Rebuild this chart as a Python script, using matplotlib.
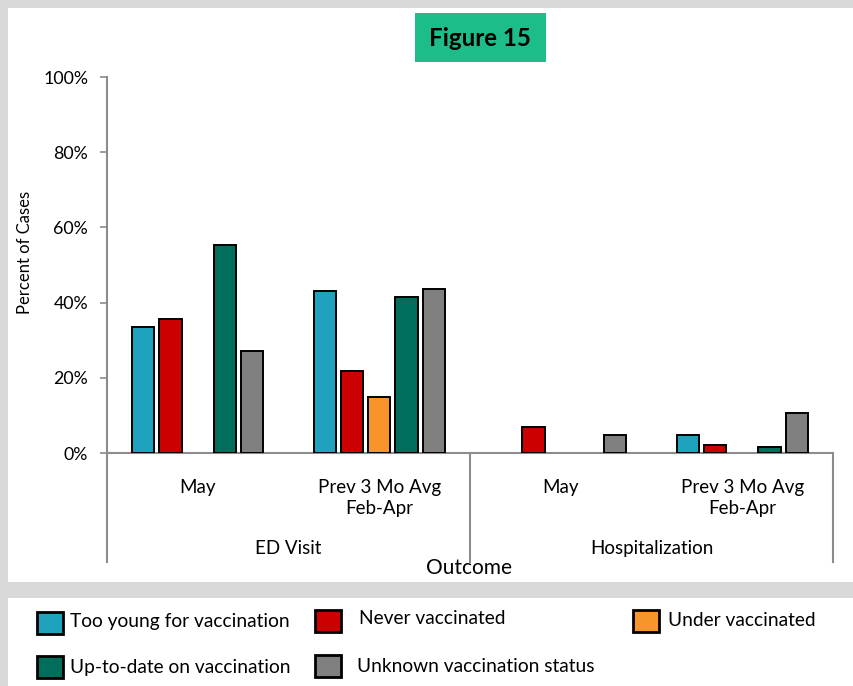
import numpy as np
import matplotlib.pyplot as plt
from matplotlib.patches import Rectangle

plt.rcParams['font.family'] = ['Lato', 'DejaVu Sans']

# data (percent of cases)
categories = ['May', 'Prev 3 Mo Avg\nFeb-Apr', 'May', 'Prev 3 Mo Avg\nFeb-Apr']
outcomes = ['ED Visit', 'Hospitalization']
series = ['Too young for vaccination', 'Never vaccinated', 'Under vaccinated',
          'Up-to-date on vaccination', 'Unknown vaccination status']
too_young = [33.5, 43.2, 0.0, 4.9]
never_vacc = [35.6, 21.8, 6.9, 2.2]
under_vacc = [0.0, 15.0, 0.0, 0.0]
up_to_date = [55.4, 41.5, 0.0, 1.6]
unknown = [27.2, 43.7, 4.8, 10.6]
values = [too_young, never_vacc, under_vacc, up_to_date, unknown]
colors = ['#1fa2bd', '#cc0000', '#f7952b', '#006e5a', '#808080']

W, H = 854, 686
fig = plt.figure(figsize=(W / 100, H / 100), dpi=100, facecolor='#d9d9d9')


def fx(x):
    return x / W


def fy(y):
    return 1 - y / H


# white panels
fig.patches.append(Rectangle((fx(8), fy(582)), fx(846), 574 / H, transform=fig.transFigure,
                             facecolor='white', edgecolor='none', zorder=-2))
fig.patches.append(Rectangle((fx(8), 0), fx(846), 88 / H, transform=fig.transFigure,
                             facecolor='white', edgecolor='none', zorder=-2))

# title box
fig.patches.append(Rectangle((fx(415), fy(62)), fx(131), 49 / H, transform=fig.transFigure,
                             facecolor='#1dbd8a', edgecolor='none', zorder=1))
fig.text(fx(480), fy(38), 'Figure 15', ha='center', va='center', fontsize=17.4,
         fontweight='bold', color='black')

ax = fig.add_axes([fx(107), fy(453), fx(726), 376 / H])
ax.set_facecolor('none')

x = np.arange(len(categories))
bw = 0.122
step = 0.15
for i, (vals, c) in enumerate(zip(values, colors)):
    v = np.array(vals)
    m = v > 0
    ax.bar(x[m] + (i - 2) * step, v[m], width=bw, color=c, edgecolor='black',
           linewidth=1.4, zorder=3)

ax.set_xlim(-0.5, 3.5)
ax.set_ylim(0, 100)
ax.set_yticks(np.arange(0, 101, 20))
ax.set_yticklabels([f'{t}%' for t in range(0, 101, 20)], fontsize=12.8)
ax.tick_params(axis='y', direction='out', length=5, width=1.2, color='#8c8c8c', pad=8.5)
ax.set_xticks(x)
ax.set_xticklabels(categories, fontsize=13.5, linespacing=1.25)
ax.tick_params(axis='x', length=0, pad=19)
for s in ['top', 'right']:
    ax.spines[s].set_visible(False)
for s in ['left', 'bottom']:
    ax.spines[s].set_color('#8c8c8c')
    ax.spines[s].set_linewidth(1.5)

# outer level of the category axis
tr = ax.get_xaxis_transform()
for bx in [-0.5, 1.5, 3.5]:
    ax.plot([bx, bx], [0, -0.29], transform=tr, color='#8c8c8c', lw=1.5, clip_on=False)
for k, name in enumerate(outcomes):
    ax.text(2 * k + 0.5, -0.255, name, transform=tr, ha='center', va='center', fontsize=13.5)

fig.text(fx(469), fy(568), 'Outcome', ha='center', va='center', fontsize=15)
fig.text(fx(25), fy(252), 'Percent of Cases', ha='center', va='center', rotation=90,
         fontsize=12)

# legend
leg_pos = [(37, 623, 70, 622), (315, 621, 359, 618), (633, 621, 668, 621),
           (37, 667, 70, 667), (315, 666, 357, 666)]
for (px, py, tx, ty), lab, c in zip(leg_pos, series, colors):
    fig.patches.append(Rectangle((fx(px), fy(py + 11)), fx(26), 22 / H,
                                 transform=fig.transFigure, facecolor=c,
                                 edgecolor='black', linewidth=2, zorder=2))
    fig.text(fx(tx), fy(ty), lab, ha='left', va='center', fontsize=13.8)

fig.savefig('out.png', dpi=100, facecolor=fig.get_facecolor())
